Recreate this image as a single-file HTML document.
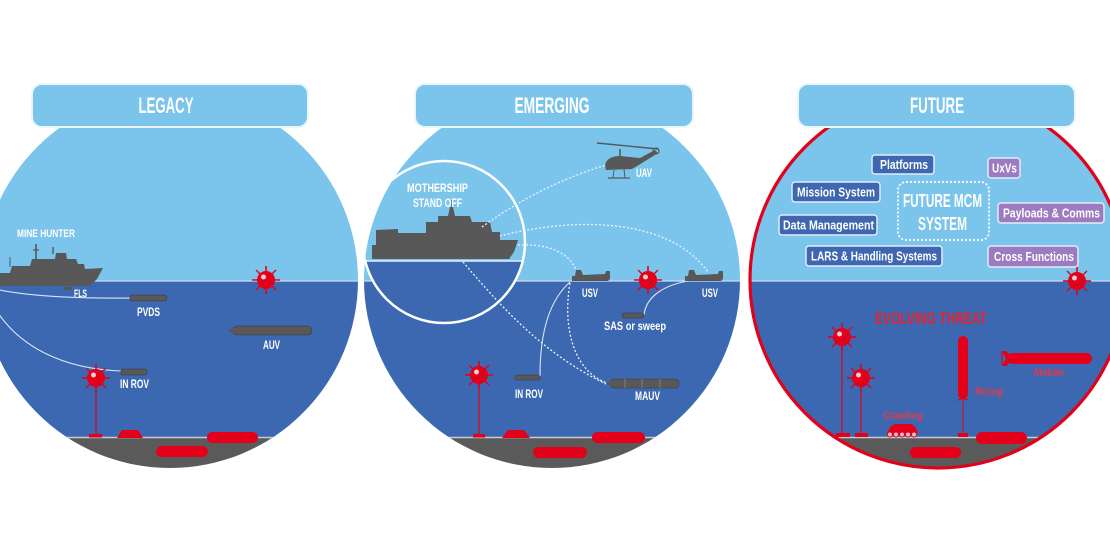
<!DOCTYPE html>
<html><head><meta charset="utf-8"><style>
html,body{margin:0;padding:0;background:#fff}
svg{display:block}
text{font-family:"Liberation Sans Narrow","Liberation Sans",sans-serif;fill:#fff;font-weight:bold}
</style></head><body>
<svg width="1110" height="556" viewBox="0 0 1110 556" xmlns="http://www.w3.org/2000/svg">
<defs>
<clipPath id="c1"><circle cx="170" cy="280" r="188"/></clipPath>
<clipPath id="c2"><circle cx="552" cy="280" r="188"/></clipPath>
<clipPath id="c3"><circle cx="938" cy="280" r="188"/></clipPath>
<clipPath id="ci"><circle cx="444" cy="242" r="81"/></clipPath>
<g id="mine">
<line x1="-14" y1="0" x2="14" y2="0" stroke="#e2001a" stroke-width="1.6"/>
<line x1="0" y1="-14" x2="0" y2="14" stroke="#e2001a" stroke-width="1.6"/>
<line x1="-10" y1="-10" x2="10" y2="10" stroke="#e2001a" stroke-width="1.3"/>
<line x1="-10" y1="10" x2="10" y2="-10" stroke="#e2001a" stroke-width="1.3"/>
<circle r="9" fill="#e2001a"/>
<circle cx="-2.5" cy="-3" r="2.5" fill="#f6cdd2"/>
</g>
<g id="usv">
<path d="M0,13 L0,8 L3,8 L4,2 L9,2 L11,7 L33,6 L34,3 L38,3 L38,11 L36,13 Z" fill="#585858"/>
</g>
</defs>

<!-- LEFT CIRCLE -->
<g clip-path="url(#c1)">
<rect x="-20" y="80" width="400" height="201" fill="#7bc4ec"/>
<rect x="-20" y="281" width="400" height="156" fill="#3c68b1"/>
<rect x="-20" y="437" width="400" height="40" fill="#5a5a5a"/>
<line x1="-20" y1="281" x2="380" y2="281" stroke="#c9def2" stroke-width="1.2"/>
<line x1="-20" y1="437.5" x2="380" y2="437.5" stroke="#c8ccd4" stroke-width="1.5"/>
<path d="M-5,273 L10,273 L12,266 L30,266 L32,259 L55,259 L56,253 L66,253 L67,259 L76,259 L78,264 L84,264 L85,269 L103,268 L97,279 L90,286 L-5,286 Z" fill="#585858"/>
<line x1="36" y1="244" x2="36" y2="260" stroke="#585858" stroke-width="1.6"/>
<line x1="33" y1="250" x2="39" y2="250" stroke="#585858" stroke-width="1.2"/>
<line x1="53" y1="247" x2="53" y2="254" stroke="#585858" stroke-width="1.4"/>
<line x1="10" y1="257" x2="10" y2="267" stroke="#585858" stroke-width="1"/>
<rect x="60" y="255" width="6" height="4" fill="#585858"/>
<rect x="64" y="287" width="8" height="3" fill="#585858"/>
<line x1="68" y1="285" x2="68" y2="288" stroke="#585858" stroke-width="1.2"/>
<path d="M-5,289 Q40,299 131,298" fill="none" stroke="#dbe6f4" stroke-width="1.1"/>
<path d="M-2,313 C20,345 60,369 122,371" fill="none" stroke="#dbe6f4" stroke-width="1.1"/>
<rect x="130" y="295" width="37" height="6" rx="3" fill="#585858" stroke="#3a3a3a" stroke-width="0.6"/>
<rect x="233" y="326" width="79" height="9" rx="4.5" fill="#585858" stroke="#3a3a3a" stroke-width="0.6"/>
<path d="M228,330.5 L234,327 L234,334 Z" fill="#585858"/>
<rect x="121" y="369" width="26" height="6" rx="2" fill="#585858" stroke="#3a3a3a" stroke-width="0.6"/>
<use href="#mine" x="266" y="280"/>
<line x1="96" y1="386" x2="96" y2="435" stroke="#e2001a" stroke-width="1.2"/>
<use href="#mine" x="96" y="378"/>
<rect x="89" y="434" width="13" height="3.5" fill="#e2001a"/>
<path d="M117,438 L122,430 L138,430 L143,438 Z" fill="#e2001a"/>
<rect x="207" y="432" width="51" height="11" rx="5.5" fill="#e2001a"/>
<rect x="156" y="446" width="52" height="11" rx="5.5" fill="#e2001a"/>
</g>
<text x="17" y="237" font-size="11" textLength="58" lengthAdjust="spacingAndGlyphs">MINE HUNTER</text>
<text x="74" y="297" font-size="11" textLength="13" lengthAdjust="spacingAndGlyphs">FLS</text>
<text x="137" y="316" font-size="12" textLength="23" lengthAdjust="spacingAndGlyphs">PVDS</text>
<text x="263" y="349" font-size="12" textLength="17" lengthAdjust="spacingAndGlyphs">AUV</text>
<text x="120" y="388" font-size="12" textLength="29" lengthAdjust="spacingAndGlyphs">IN ROV</text>

<!-- MIDDLE CIRCLE -->
<g clip-path="url(#c2)">
<rect x="360" y="80" width="400" height="201" fill="#7bc4ec"/>
<rect x="360" y="281" width="400" height="156" fill="#3c68b1"/>
<rect x="360" y="437" width="400" height="40" fill="#5a5a5a"/>
<line x1="360" y1="281" x2="760" y2="281" stroke="#c9def2" stroke-width="1.2"/>
<line x1="360" y1="437.5" x2="760" y2="437.5" stroke="#c8ccd4" stroke-width="1.5"/>
<g clip-path="url(#ci)">
<rect x="360" y="150" width="180" height="111" fill="#7bc4ec"/>
<rect x="360" y="261" width="180" height="70" fill="#3c68b1"/>
<line x1="360" y1="261" x2="540" y2="261" stroke="#e4eef8" stroke-width="1.5"/>
<path d="M372,259 L372,245 L376,245 L376,230 L398,229 L398,233 L426,233 L426,222 L438,222 L438,216 L448,216 L450,207 L453,207 L455,216 L470,216 L472,222 L490,222 L492,232 L500,232 L500,240 L518,240 L514,252 L509,259 Z" fill="#585858"/>
<line x1="452" y1="200" x2="452" y2="210" stroke="#585858" stroke-width="1.4"/>
</g>
<circle cx="444" cy="242" r="81" fill="none" stroke="#fff" stroke-width="2.5"/>
<g fill="none" stroke="#eef4fb" stroke-width="1.3" stroke-dasharray="2 2">
<path d="M482,227 Q540,185 606,165"/>
<path d="M500,236 C560,220 665,212 708,272"/>
<path d="M518,245 Q566,243 577,272"/>
<path d="M463,262 C500,305 540,352 606,384"/>
<path d="M570,283 C562,330 575,372 607,383"/>
</g>
<path d="M570,282 C550,300 540,330 540,376" fill="none" stroke="#dbe6f4" stroke-width="1.1"/>
<path d="M644,315 C646,296 665,285 688,281" fill="none" stroke="#dbe6f4" stroke-width="1.1"/>
<line x1="597" y1="143" x2="658" y2="149" stroke="#585858" stroke-width="1.4"/>
<path d="M606,170 C603,162 609,156 620,156 L640,158 L655,150 L658,153 L642,163 L632,169 Z" fill="#585858"/>
<circle cx="656" cy="151" r="3" fill="none" stroke="#585858" stroke-width="1.2"/>
<line x1="620" y1="149" x2="620" y2="156" stroke="#585858" stroke-width="1.5"/>
<line x1="608" y1="178" x2="630" y2="178" stroke="#585858" stroke-width="1.3"/>
<line x1="614" y1="170" x2="613" y2="178" stroke="#585858" stroke-width="1"/>
<line x1="624" y1="169" x2="625" y2="178" stroke="#585858" stroke-width="1"/>
<use href="#usv" x="572" y="268"/>
<use href="#usv" x="685" y="268"/>
<rect x="622" y="313" width="22" height="5" rx="2.5" fill="#585858" stroke="#3a3a3a" stroke-width="0.6"/>
<rect x="515" y="375" width="25" height="5" rx="2" fill="#585858" stroke="#3a3a3a" stroke-width="0.6"/>
<rect x="610" y="379" width="69" height="9" rx="4" fill="#585858" stroke="#3a3a3a" stroke-width="0.6"/>
<path d="M606,383.5 L611,380 L611,387 Z" fill="#585858"/>
<line x1="625" y1="379" x2="625" y2="388" stroke="#8a8a8a" stroke-width="0.8"/>
<line x1="642" y1="379" x2="642" y2="388" stroke="#8a8a8a" stroke-width="0.8"/>
<line x1="660" y1="379" x2="660" y2="388" stroke="#8a8a8a" stroke-width="0.8"/>
<use href="#mine" x="648" y="280"/>
<line x1="479" y1="383" x2="479" y2="435" stroke="#e2001a" stroke-width="1.2"/>
<use href="#mine" x="479" y="375"/>
<rect x="473" y="434" width="12" height="3.5" fill="#e2001a"/>
<path d="M502,438 L508,430 L524,430 L530,438 Z" fill="#e2001a"/>
<rect x="592" y="432" width="53" height="11" rx="5.5" fill="#e2001a"/>
<rect x="533" y="447" width="54" height="11" rx="5.5" fill="#e2001a"/>
</g>
<text x="407" y="192" font-size="12" textLength="61" lengthAdjust="spacingAndGlyphs">MOTHERSHIP</text>
<text x="413" y="207" font-size="12" textLength="49" lengthAdjust="spacingAndGlyphs">STAND OFF</text>
<text x="636" y="177" font-size="12" textLength="16" lengthAdjust="spacingAndGlyphs">UAV</text>
<text x="582" y="297" font-size="12" textLength="16" lengthAdjust="spacingAndGlyphs">USV</text>
<text x="702" y="297" font-size="12" textLength="16" lengthAdjust="spacingAndGlyphs">USV</text>
<text x="604" y="330" font-size="12" textLength="62" lengthAdjust="spacingAndGlyphs">SAS or sweep</text>
<text x="515" y="398" font-size="12" textLength="28" lengthAdjust="spacingAndGlyphs">IN ROV</text>
<text x="635" y="400" font-size="12" textLength="25" lengthAdjust="spacingAndGlyphs">MAUV</text>

<!-- RIGHT CIRCLE -->
<g clip-path="url(#c3)">
<rect x="740" y="80" width="400" height="201" fill="#7bc4ec"/>
<rect x="740" y="281" width="400" height="156" fill="#3c68b1"/>
<rect x="740" y="437" width="400" height="40" fill="#5a5a5a"/>
<line x1="740" y1="281" x2="1140" y2="281" stroke="#c9def2" stroke-width="1.2"/>
<line x1="740" y1="437.5" x2="1140" y2="437.5" stroke="#c8ccd4" stroke-width="1.5"/>
<g stroke="#e3ecf7" stroke-width="1.5">
<rect x="872" y="155" width="62" height="19" rx="3" fill="#3f66b1"/>
<rect x="988" y="158" width="32" height="20" rx="3" fill="#9d7bc0"/>
<rect x="792" y="182" width="88" height="20" rx="3" fill="#3f66b1"/>
<rect x="998" y="203" width="106" height="20" rx="3" fill="#9d7bc0"/>
<rect x="779" y="215" width="98" height="20" rx="3" fill="#3f66b1"/>
<rect x="806" y="246" width="136" height="20" rx="3" fill="#3f66b1"/>
<rect x="988" y="246" width="90" height="21" rx="3" fill="#9d7bc0"/>
</g>
<rect x="898" y="182" width="91" height="58" rx="8" fill="none" stroke="#fff" stroke-width="1.8" stroke-dasharray="2 2"/>
<use href="#mine" x="1077" y="281"/>
<line x1="842" y1="345" x2="842" y2="434" stroke="#e2001a" stroke-width="1.2"/>
<use href="#mine" x="842" y="337"/>
<rect x="836" y="433" width="14" height="4" fill="#e2001a"/>
<line x1="861" y1="386" x2="861" y2="434" stroke="#e2001a" stroke-width="1.2"/>
<use href="#mine" x="861" y="378"/>
<rect x="855" y="433" width="13" height="4" fill="#e2001a"/>
<path d="M887,433 L890,427 L895,424 L912,424 L916,428 L918,433 Z" fill="#e2001a"/>
<g fill="#f3b8bf" stroke="#e2001a" stroke-width="1">
<circle cx="890" cy="434.5" r="2.5"/><circle cx="896" cy="434.5" r="2.5"/><circle cx="902" cy="434.5" r="2.5"/><circle cx="908" cy="434.5" r="2.5"/><circle cx="914" cy="434.5" r="2.5"/>
</g>
<rect x="958" y="336" width="10" height="63" rx="5" fill="#e2001a"/>
<path d="M956,401 L963,396 L970,401 L963,399 Z" fill="#e2001a"/>
<line x1="963" y1="399" x2="963" y2="434" stroke="#e2001a" stroke-width="1"/>
<rect x="958" y="433" width="10" height="4" fill="#e2001a"/>
<rect x="1008" y="353" width="84" height="11" rx="5.5" fill="#e2001a"/>
<path d="M1002,351 L1006,351 L1012,356 L1012,361 L1006,366 L1002,366 L1006,358.5 Z" fill="#e2001a"/>
<line x1="1002" y1="352" x2="1002" y2="365" stroke="#e2001a" stroke-width="1.2"/>
<rect x="976" y="432" width="51" height="12" rx="6" fill="#e2001a"/>
<rect x="910" y="447" width="51" height="11" rx="5.5" fill="#e2001a"/>
</g>
<circle cx="938" cy="280" r="188" fill="none" stroke="#e2001a" stroke-width="3.2"/>
<text x="880" y="169" font-size="13" textLength="48" lengthAdjust="spacingAndGlyphs">Platforms</text>
<text x="992" y="172.5" font-size="13" textLength="25" lengthAdjust="spacingAndGlyphs">UxVs</text>
<text x="797" y="196.5" font-size="13" textLength="78" lengthAdjust="spacingAndGlyphs">Mission System</text>
<text x="1003" y="217.5" font-size="13" textLength="97" lengthAdjust="spacingAndGlyphs">Payloads &amp; Comms</text>
<text x="783" y="229.5" font-size="13" textLength="91" lengthAdjust="spacingAndGlyphs">Data Management</text>
<text x="811" y="260.5" font-size="13" textLength="126" lengthAdjust="spacingAndGlyphs">LARS &amp; Handling Systems</text>
<text x="994" y="261" font-size="13" textLength="80" lengthAdjust="spacingAndGlyphs">Cross Functions</text>
<text x="903" y="207" font-size="18" textLength="79" lengthAdjust="spacingAndGlyphs">FUTURE MCM</text>
<text x="918" y="230" font-size="18" textLength="49" lengthAdjust="spacingAndGlyphs">SYSTEM</text>
<text x="875" y="324" font-size="17" textLength="112" lengthAdjust="spacingAndGlyphs" style="fill:#e5232f">EVOLVING THREAT</text>
<text x="883" y="419" font-size="11" textLength="40" lengthAdjust="spacingAndGlyphs" style="fill:#e03a4a">Crawling</text>
<text x="975" y="395" font-size="11" textLength="28" lengthAdjust="spacingAndGlyphs" style="fill:#e03a4a">Rising</text>
<text x="1034" y="376" font-size="11" textLength="30" lengthAdjust="spacingAndGlyphs" style="fill:#e03a4a">Mobile</text>

<!-- BANNERS -->
<rect x="32" y="84" width="276" height="43" rx="10" fill="#7bc4ec" stroke="#eaf5fc" stroke-width="2"/>
<rect x="415" y="84" width="278" height="43" rx="10" fill="#7bc4ec" stroke="#eaf5fc" stroke-width="2"/>
<rect x="798" y="84" width="277" height="43" rx="10" fill="#7bc4ec" stroke="#eaf5fc" stroke-width="2"/>
<text x="166" y="113" font-size="22" text-anchor="middle" textLength="55" lengthAdjust="spacingAndGlyphs">LEGACY</text>
<text x="552" y="113" font-size="22" text-anchor="middle" textLength="75" lengthAdjust="spacingAndGlyphs">EMERGING</text>
<text x="937" y="113" font-size="22" text-anchor="middle" textLength="54" lengthAdjust="spacingAndGlyphs">FUTURE</text>
</svg>
</body></html>
